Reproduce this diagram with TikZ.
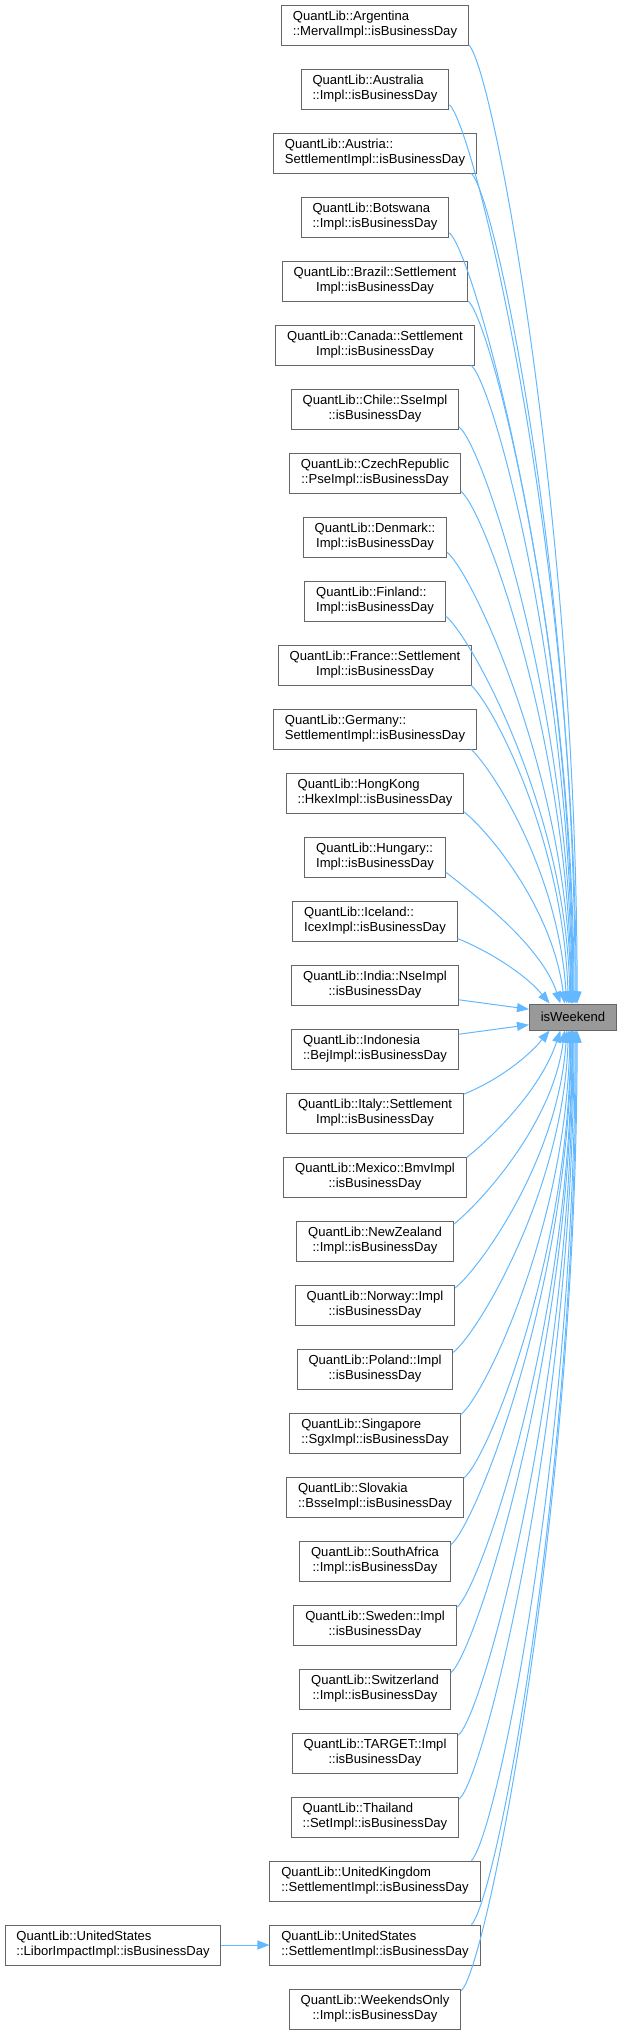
\documentclass[tikz,border=0pt]{standalone}
\usepackage{fontspec}
\setmainfont{Liberation Sans}
\usepackage{tikz}
\usetikzlibrary{arrows.meta}
\definecolor{callblue}{RGB}{99,184,255}
\definecolor{boxgrey}{RGB}{102,102,102}
\definecolor{curgrey}{RGB}{153,153,153}

% first line flush left, second line centred
\newcommand{\fnname}[2]{\begin{tabular}{@{}l@{}}#1\\\multicolumn{1}{@{}c@{}}{#2}\end{tabular}}

\tikzset{
  fn/.style={draw=boxgrey,fill=white,line width=0.75pt,inner xsep=8.5pt,inner ysep=0pt,minimum height=30pt,font=\fontsize{9.8}{11.6}\selectfont},
  cur/.style={fn,fill=curgrey,minimum height=19.5pt},
  call/.style={draw=callblue,line width=0.75pt,-{Triangle[length=9pt,width=6.75pt]}}
}

\begin{document}
\begin{tikzpicture}[x=0.75pt,y=-0.75pt]
        \useasboundingbox (0,0) rectangle (621,2035);
        \node[cur] (wk) at (573,1017) {isWeekend};
        \node[fn] (arg) at (375,25) {\fnname{QuantLib::Argentina}{::MervalImpl::isBusinessDay}};
        \node[fn] (aus) at (375,89) {\fnname{QuantLib::Australia}{::Impl::isBusinessDay}};
        \node[fn] (aut) at (375,153) {\fnname{QuantLib::Austria::}{SettlementImpl::isBusinessDay}};
        \node[fn] (bwa) at (375,217) {\fnname{QuantLib::Botswana}{::Impl::isBusinessDay}};
        \node[fn] (bra) at (375,281) {\fnname{QuantLib::Brazil::Settlement}{Impl::isBusinessDay}};
        \node[fn] (can) at (375,345) {\fnname{QuantLib::Canada::Settlement}{Impl::isBusinessDay}};
        \node[fn] (chl) at (375,409) {\fnname{QuantLib::Chile::SseImpl}{::isBusinessDay}};
        \node[fn] (cze) at (375,473) {\fnname{QuantLib::CzechRepublic}{::PseImpl::isBusinessDay}};
        \node[fn] (dnk) at (375,537) {\fnname{QuantLib::Denmark::}{Impl::isBusinessDay}};
        \node[fn] (fin) at (375,601) {\fnname{QuantLib::Finland::}{Impl::isBusinessDay}};
        \node[fn] (fra) at (375,665) {\fnname{QuantLib::France::Settlement}{Impl::isBusinessDay}};
        \node[fn] (deu) at (375,729) {\fnname{QuantLib::Germany::}{SettlementImpl::isBusinessDay}};
        \node[fn] (hkg) at (375,793) {\fnname{QuantLib::HongKong}{::HkexImpl::isBusinessDay}};
        \node[fn] (hun) at (375,857) {\fnname{QuantLib::Hungary::}{Impl::isBusinessDay}};
        \node[fn] (isl) at (375,921) {\fnname{QuantLib::Iceland::}{IcexImpl::isBusinessDay}};
        \node[fn] (ind) at (375,985) {\fnname{QuantLib::India::NseImpl}{::isBusinessDay}};
        \node[fn] (idn) at (375,1049) {\fnname{QuantLib::Indonesia}{::BejImpl::isBusinessDay}};
        \node[fn] (ita) at (375,1113) {\fnname{QuantLib::Italy::Settlement}{Impl::isBusinessDay}};
        \node[fn] (mex) at (375,1177) {\fnname{QuantLib::Mexico::BmvImpl}{::isBusinessDay}};
        \node[fn] (nzl) at (375,1241) {\fnname{QuantLib::NewZealand}{::Impl::isBusinessDay}};
        \node[fn] (nor) at (375,1305) {\fnname{QuantLib::Norway::Impl}{::isBusinessDay}};
        \node[fn] (pol) at (375,1369) {\fnname{QuantLib::Poland::Impl}{::isBusinessDay}};
        \node[fn] (sgp) at (375,1433) {\fnname{QuantLib::Singapore}{::SgxImpl::isBusinessDay}};
        \node[fn] (svk) at (375,1497) {\fnname{QuantLib::Slovakia}{::BsseImpl::isBusinessDay}};
        \node[fn] (zaf) at (375,1561) {\fnname{QuantLib::SouthAfrica}{::Impl::isBusinessDay}};
        \node[fn] (swe) at (375,1625) {\fnname{QuantLib::Sweden::Impl}{::isBusinessDay}};
        \node[fn] (che) at (375,1689) {\fnname{QuantLib::Switzerland}{::Impl::isBusinessDay}};
        \node[fn] (tgt) at (375,1753) {\fnname{QuantLib::TARGET::Impl}{::isBusinessDay}};
        \node[fn] (tha) at (375,1817) {\fnname{QuantLib::Thailand}{::SetImpl::isBusinessDay}};
        \node[fn] (gbr) at (375,1881) {\fnname{QuantLib::UnitedKingdom}{::SettlementImpl::isBusinessDay}};
        \node[fn] (usa) at (375,1945) {\fnname{QuantLib::UnitedStates}{::SettlementImpl::isBusinessDay}};
        \node[fn] (wko) at (375,2009) {\fnname{QuantLib::WeekendsOnly}{::Impl::isBusinessDay}};
        \node[fn] (lib) at (113,1945) {\fnname{QuantLib::UnitedStates}{::LiborImpactImpl::isBusinessDay}};
        % callers above
        \draw[call] (arg.-12) .. controls +(25,25) and +(0,-480) .. (wk.73);
        \draw[call] (aus.-12) .. controls +(25,20) and +(0,-450) .. (wk.77);
        \draw[call] (aut.-12) .. controls +(25,25) and +(0,-418) .. (wk.81);
        \draw[call] (bwa.-12) .. controls +(25,20) and +(0,-385) .. (wk.86);
        \draw[call] (bra.-12) .. controls +(25,25) and +(0,-353) .. (wk.90);
        \draw[call] (can.-12) .. controls +(25,25) and +(-1,-321) .. (wk.92);
        \draw[call] (chl.-12) .. controls +(25,20) and +(-1,-290) .. (wk.94);
        \draw[call] (cze.-12) .. controls +(25,20) and +(-2,-258) .. (wk.97);
        \draw[call] (dnk.-12) .. controls +(25,20) and +(-2,-225) .. (wk.99);
        \draw[call] (fin.-12) .. controls +(25,20) and +(-3,-193) .. (wk.103);
        \draw[call] (fra.-12) .. controls +(25,25) and +(-5,-160) .. (wk.109);
        \draw[call] (deu.-12) .. controls +(25,25) and +(-8,-128) .. (wk.115);
        \draw[call] (hkg.-12) .. controls +(25,20) and +(-12,-95) .. (wk.122);
        \draw[call] (hun.-12) .. controls +(25,20) and +(-20,-60) .. (wk.133);
        \draw[call] (isl.-12) .. controls +(30,12) and +(-25,-30) .. (wk.150);
        % callers level with it
        \draw[call] (ind.-10) -- (wk.170);
        \draw[call] (idn.10) -- (wk.-170);
        % callers below
        \draw[call] (ita.12) .. controls +(30,-12) and +(-25,30) .. (wk.-150);
        \draw[call] (mex.12) .. controls +(25,-20) and +(-20,60) .. (wk.-133);
        \draw[call] (nzl.12) .. controls +(25,-20) and +(-12,95) .. (wk.-122);
        \draw[call] (nor.12) .. controls +(25,-20) and +(-8,128) .. (wk.-115);
        \draw[call] (pol.12) .. controls +(25,-20) and +(-5,160) .. (wk.-109);
        \draw[call] (sgp.12) .. controls +(25,-20) and +(-3,193) .. (wk.-103);
        \draw[call] (svk.12) .. controls +(25,-20) and +(-2,225) .. (wk.-99);
        \draw[call] (zaf.12) .. controls +(25,-20) and +(-2,258) .. (wk.-97);
        \draw[call] (swe.12) .. controls +(25,-20) and +(-1,290) .. (wk.-94);
        \draw[call] (che.12) .. controls +(25,-20) and +(-1,321) .. (wk.-92);
        \draw[call] (tgt.12) .. controls +(25,-20) and +(0,353) .. (wk.-90);
        \draw[call] (tha.12) .. controls +(25,-20) and +(0,385) .. (wk.-86);
        \draw[call] (gbr.12) .. controls +(25,-25) and +(0,418) .. (wk.-81);
        \draw[call] (usa.12) .. controls +(25,-25) and +(0,450) .. (wk.-77);
        \draw[call] (wko.12) .. controls +(25,-20) and +(0,480) .. (wk.-73);
        \draw[call] (lib) -- (usa);
      \end{tikzpicture}
\end{document}
